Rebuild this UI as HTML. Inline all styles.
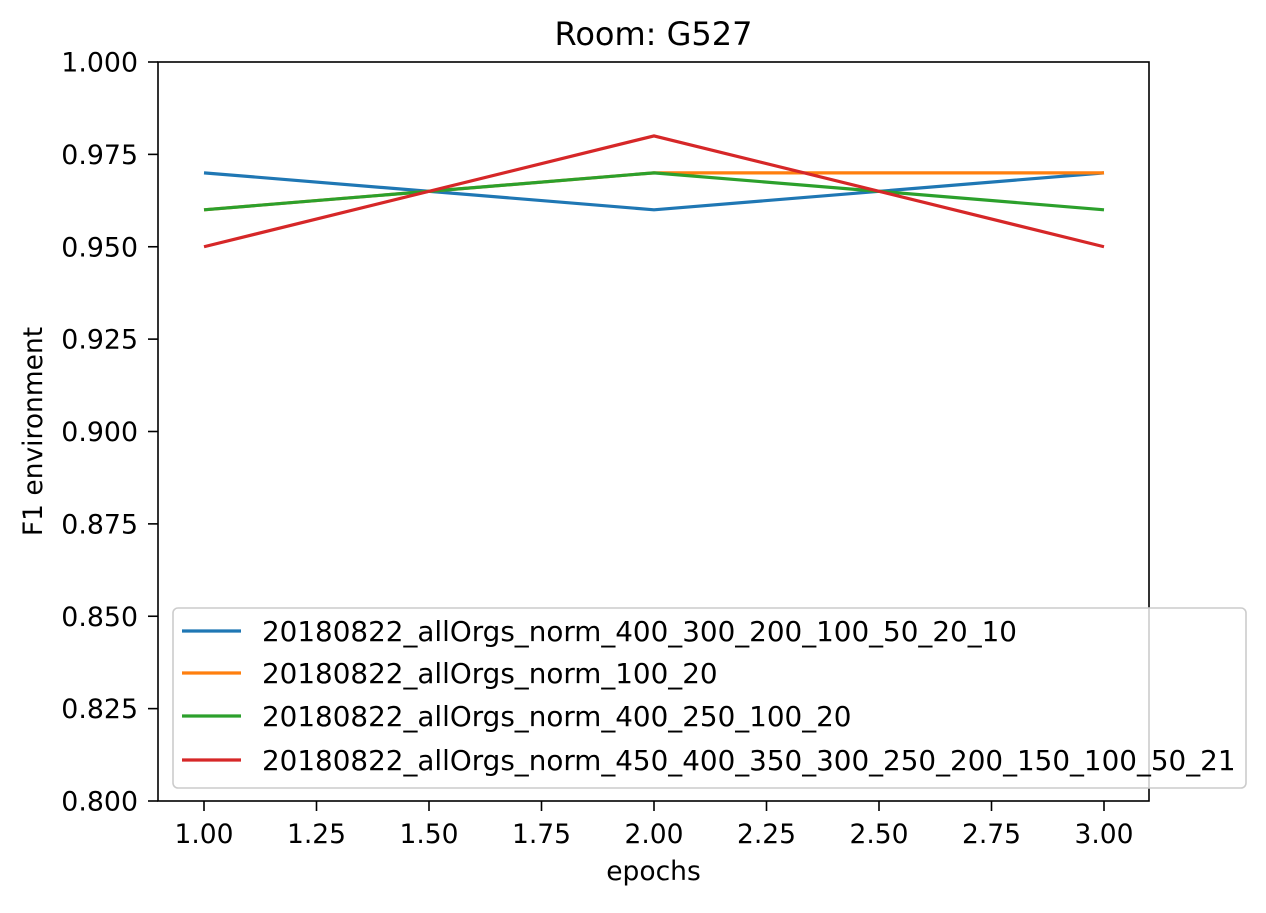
<!DOCTYPE html>
<html><head><meta charset="utf-8"><style>
body{margin:0;background:#fff}
svg text{font-family:"DejaVu Sans","Liberation Sans",sans-serif;fill:#000}
</style></head><body>
<svg id="chart" width="1266" height="908" xmlns="http://www.w3.org/2000/svg"></svg>
<script>
const epochs=[1,2,3];
const seriesNames=["20180822_allOrgs_norm_400_300_200_100_50_20_10","20180822_allOrgs_norm_100_20","20180822_allOrgs_norm_400_250_100_20","20180822_allOrgs_norm_450_400_350_300_250_200_150_100_50_21"];
const blueVals=[0.97,0.96,0.97];
const orangeVals=[0.96,0.97,0.97];
const greenVals=[0.96,0.97,0.96];
const redVals=[0.95,0.98,0.95];
const xTicks=[1.0,1.25,1.5,1.75,2.0,2.25,2.5,2.75,3.0];
const yTicks=[0.8,0.825,0.85,0.875,0.9,0.925,0.95,0.975,1.0];
const colors=["#1f77b4","#ff7f0e","#2ca02c","#d62728"];
const NS="http://www.w3.org/2000/svg";
const svg=document.getElementById('chart');
const L=158,R=1149,T=62,B=801;
const X=v=>204+(v-1)*(1104-204)/2;
const Y=v=>B-(v-0.8)/(0.2)*(B-T);
function mk(tag,attrs,parent){const e=document.createElementNS(NS,tag);for(const k in attrs)e.setAttribute(k,attrs[k]);(parent||svg).appendChild(e);return e;}
let t=mk('text',{x:(L+R)/2,y:45,'text-anchor':'middle','font-size':'32'});t.textContent='Room: G527';


xTicks.forEach(v=>{const g=mk('g',{});


mk('line',{x1:X(v),x2:X(v),y1:B,y2:B+10,stroke:'#000','stroke-width':1.6},g);
const tx=mk('text',{x:X(v),y:B+42,'text-anchor':'middle','font-size':'26.5'},g);tx.textContent=v.toFixed(2);});
yTicks.forEach(v=>{const g=mk('g',{});


mk('line',{x1:L-10,x2:L,y1:Y(v),y2:Y(v),stroke:'#000','stroke-width':1.6},g);
const tx=mk('text',{x:L-20,y:Y(v)+9.5,'text-anchor':'end','font-size':'26.8'},g);tx.textContent=v.toFixed(3);});
t=mk('text',{x:(L+R)/2,y:880,'text-anchor':'middle','font-size':'26.5'});t.textContent='epochs';


t=mk('text',{x:42,y:(T+B)/2,'text-anchor':'middle','font-size':'26.5',transform:`rotate(-90 42 ${(T+B)/2})`});t.textContent='F1 environment';


const all=[blueVals,orangeVals,greenVals,redVals];
all.forEach((vals,i)=>{const p=mk('polyline',{points:vals.map((v,j)=>X(epochs[j])+','+Y(v)).join(' '),fill:'none',stroke:colors[i],'stroke-width':3.2});

});
const fr=mk('rect',{x:L,y:T,width:R-L,height:B-T,fill:'none',stroke:'#000','stroke-width':1.6});


const lg=mk('g',{});


mk('rect',{x:173,y:608,width:1073,height:180,rx:5,fill:'rgba(255,255,255,0.8)',stroke:'#ccc','stroke-width':1.6},lg);
const ly=[631,673,716,760];
seriesNames.forEach((n,i)=>{const g=mk('g',{},lg);


mk('line',{x1:182,x2:241,y1:ly[i],y2:ly[i],stroke:colors[i],'stroke-width':3.2},g);
const tx=mk('text',{x:262,y:ly[i]+10,'font-size':'27.8'},g);tx.textContent=n;});
</script>
</body></html>
